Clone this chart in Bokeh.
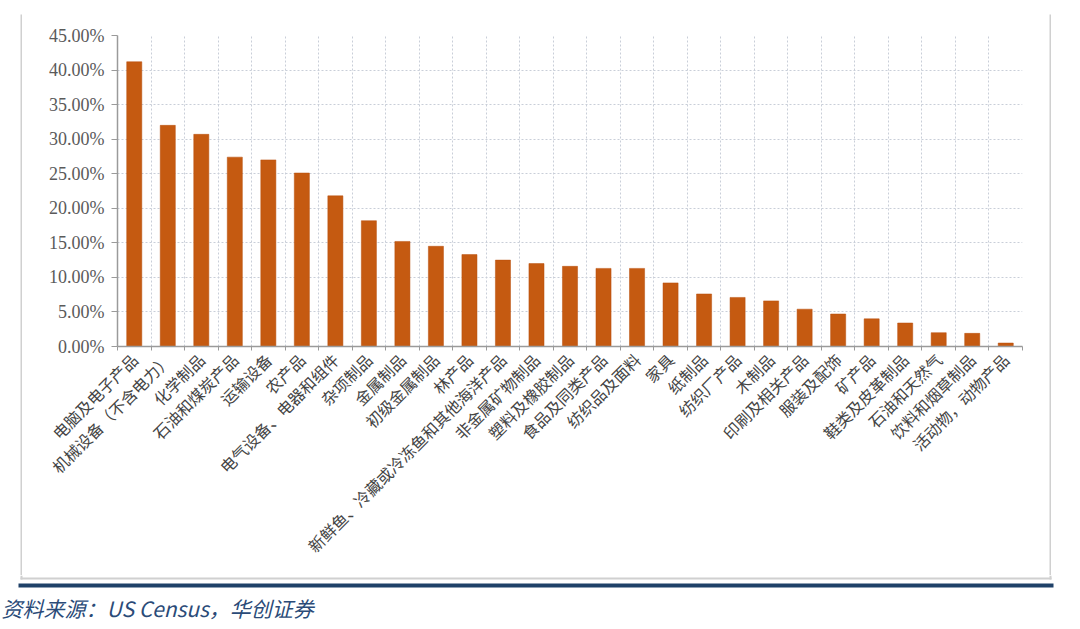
import math
from bokeh.plotting import figure
from bokeh.layouts import row, column
from bokeh.models import FixedTicker, Range1d, ColumnDataSource, Spacer
from bokeh.core.properties import value
from bokeh.embed import file_html
from bokeh.resources import INLINE

categories = [
    "电脑及电子产品", "机械设备（不含电力）", "化学制品", "石油和煤炭产品", "运输设备",
    "农产品", "电气设备、电器和组件", "杂项制品", "金属制品", "初级金属制品", "林产品",
    "新鲜鱼、冷藏或冷冻鱼和其他海洋产品", "非金属矿物制品", "塑料及橡胶制品",
    "食品及同类产品", "纺织品及面料", "家具", "纸制品", "纺织厂产品", "木制品",
    "印刷及相关产品", "服装及配饰", "矿产品", "鞋类及皮革制品", "石油和天然气",
    "饮料和烟草制品", "活动物，动物产品",
]
values = [41.2, 32.0, 30.7, 27.4, 27.0, 25.1, 21.8, 18.2, 15.2, 14.5, 13.3,
          12.5, 12.0, 11.6, 11.3, 11.3, 9.2, 7.6, 7.1, 6.6, 5.4, 4.7, 4.0,
          3.4, 2.0, 1.9, 0.5]
y_ticks = [0, 5, 10, 15, 20, 25, 30, 35, 40, 45]
y_tick_labels = ["0.00%", "5.00%", "10.00%", "15.00%", "20.00%", "25.00%",
                 "30.00%", "35.00%", "40.00%", "45.00%"]
source_text = ["资料来源：US Census，华创证券"]

n = len(categories)
src = ColumnDataSource(dict(x=list(range(n)), top=values, cat=categories))

GREY = "#D0D0D0"
CH_W, CH_H = 1027, 575          # chart figure size (canvas x 22..1049, y 0..575)
FL, FR, FT, FB = 95, 1000, 35, 346  # frame edges inside chart figure

p = figure(width=CH_W, height=CH_H, x_range=Range1d(-0.5, n - 0.5), y_range=Range1d(0, 45),
           output_backend="svg", toolbar_location=None,
           min_border_left=FL, min_border_right=CH_W - FR,
           min_border_top=FT, min_border_bottom=CH_H - FB)
p.outline_line_color = None
p.background_fill_color = "white"
p.border_fill_color = "white"

p.vbar(x="x", top="top", width=0.45, source=src, fill_color="#C55A11",
       line_color="#B84F0C", line_width=0.5)

# x axis
xa = p.xaxis[0]
xa.ticker = FixedTicker(ticks=list(range(n)), minor_ticks=[i + 0.5 for i in range(-1, n)])
xa.major_label_overrides = {i: c for i, c in enumerate(categories)}
xa.major_label_orientation = math.pi / 4
xa.major_tick_line_color = None
xa.minor_tick_in = 0
xa.minor_tick_out = 4
xa.minor_tick_line_color = "#9A9A9A"
xa.axis_line_color = "#9A9A9A"
xa.axis_line_width = 1.5
xa.major_label_text_font = "Noto Sans CJK SC"
xa.major_label_text_font_size = "16px"
xa.major_label_text_color = "#444444"
xa.major_label_standoff = 4

# y axis
ya = p.yaxis[0]
ya.ticker = FixedTicker(ticks=y_ticks)
ya.major_label_overrides = {t: l for t, l in zip(y_ticks, y_tick_labels)}
ya.minor_tick_line_color = None
ya.major_tick_in = 0
ya.major_tick_out = 6
ya.major_tick_line_color = "#9A9A9A"
ya.axis_line_color = "#9A9A9A"
ya.axis_line_width = 1.5
ya.major_label_text_font = "Liberation Serif"
ya.major_label_text_font_size = "18px"
ya.major_label_text_color = "#5A5A5A"
ya.major_label_standoff = 7

# grids
p.xgrid.ticker = FixedTicker(ticks=[i + 0.5 for i in range(n)])
p.ygrid.ticker = FixedTicker(ticks=y_ticks)
for g in (p.xgrid[0], p.ygrid[0]):
    g.grid_line_color = "#C9CED8"
    g.grid_line_dash = "2 2"
    g.grid_line_width = 1


def strip(w, h, color):
    f = figure(width=w, height=h, toolbar_location=None, output_backend="svg",
               min_border=0, x_axis_type=None, y_axis_type=None)
    f.outline_line_color = None
    f.grid.visible = False
    f.background_fill_color = color
    f.border_fill_color = color
    return f


left_col = column(Spacer(width=2, height=14), strip(2, CH_H - 14, GREY))
right_col = column(Spacer(width=2, height=14), strip(2, CH_H - 14, GREY))
top_row = row(Spacer(width=20, height=CH_H), left_col, p, right_col,
              Spacer(width=29, height=CH_H))

# footer: box bottom edge, dark blue rule and source note (pixel coordinates)
FH = 629 - CH_H
foot = figure(width=1080, height=FH, x_range=Range1d(0, 1080), y_range=Range1d(FH, 0),
              toolbar_location=None, output_backend="svg", min_border=0,
              x_axis_type=None, y_axis_type=None)
foot.outline_line_color = None
foot.grid.visible = False
foot.background_fill_color = "white"
foot.border_fill_color = "white"
foot.quad(left=[20, 20, 1049], right=[1051, 22, 1051], top=[2, 0, 0], bottom=[4, 4, 4],
          fill_color=GREY, line_color=None)
foot.quad(left=[18], right=[1053], top=[8], bottom=[12], fill_color="#1F4168", line_color=None)
foot.text(x=[1], y=[32], text=source_text, text_font=value("Noto Sans CJK SC"),
          text_font_size="21px", text_font_style="italic", text_color="#2B4B78",
          text_baseline="middle", text_align="left")

layout = column(top_row, foot)
open("out.html", "w").write(file_html(layout, INLINE))
